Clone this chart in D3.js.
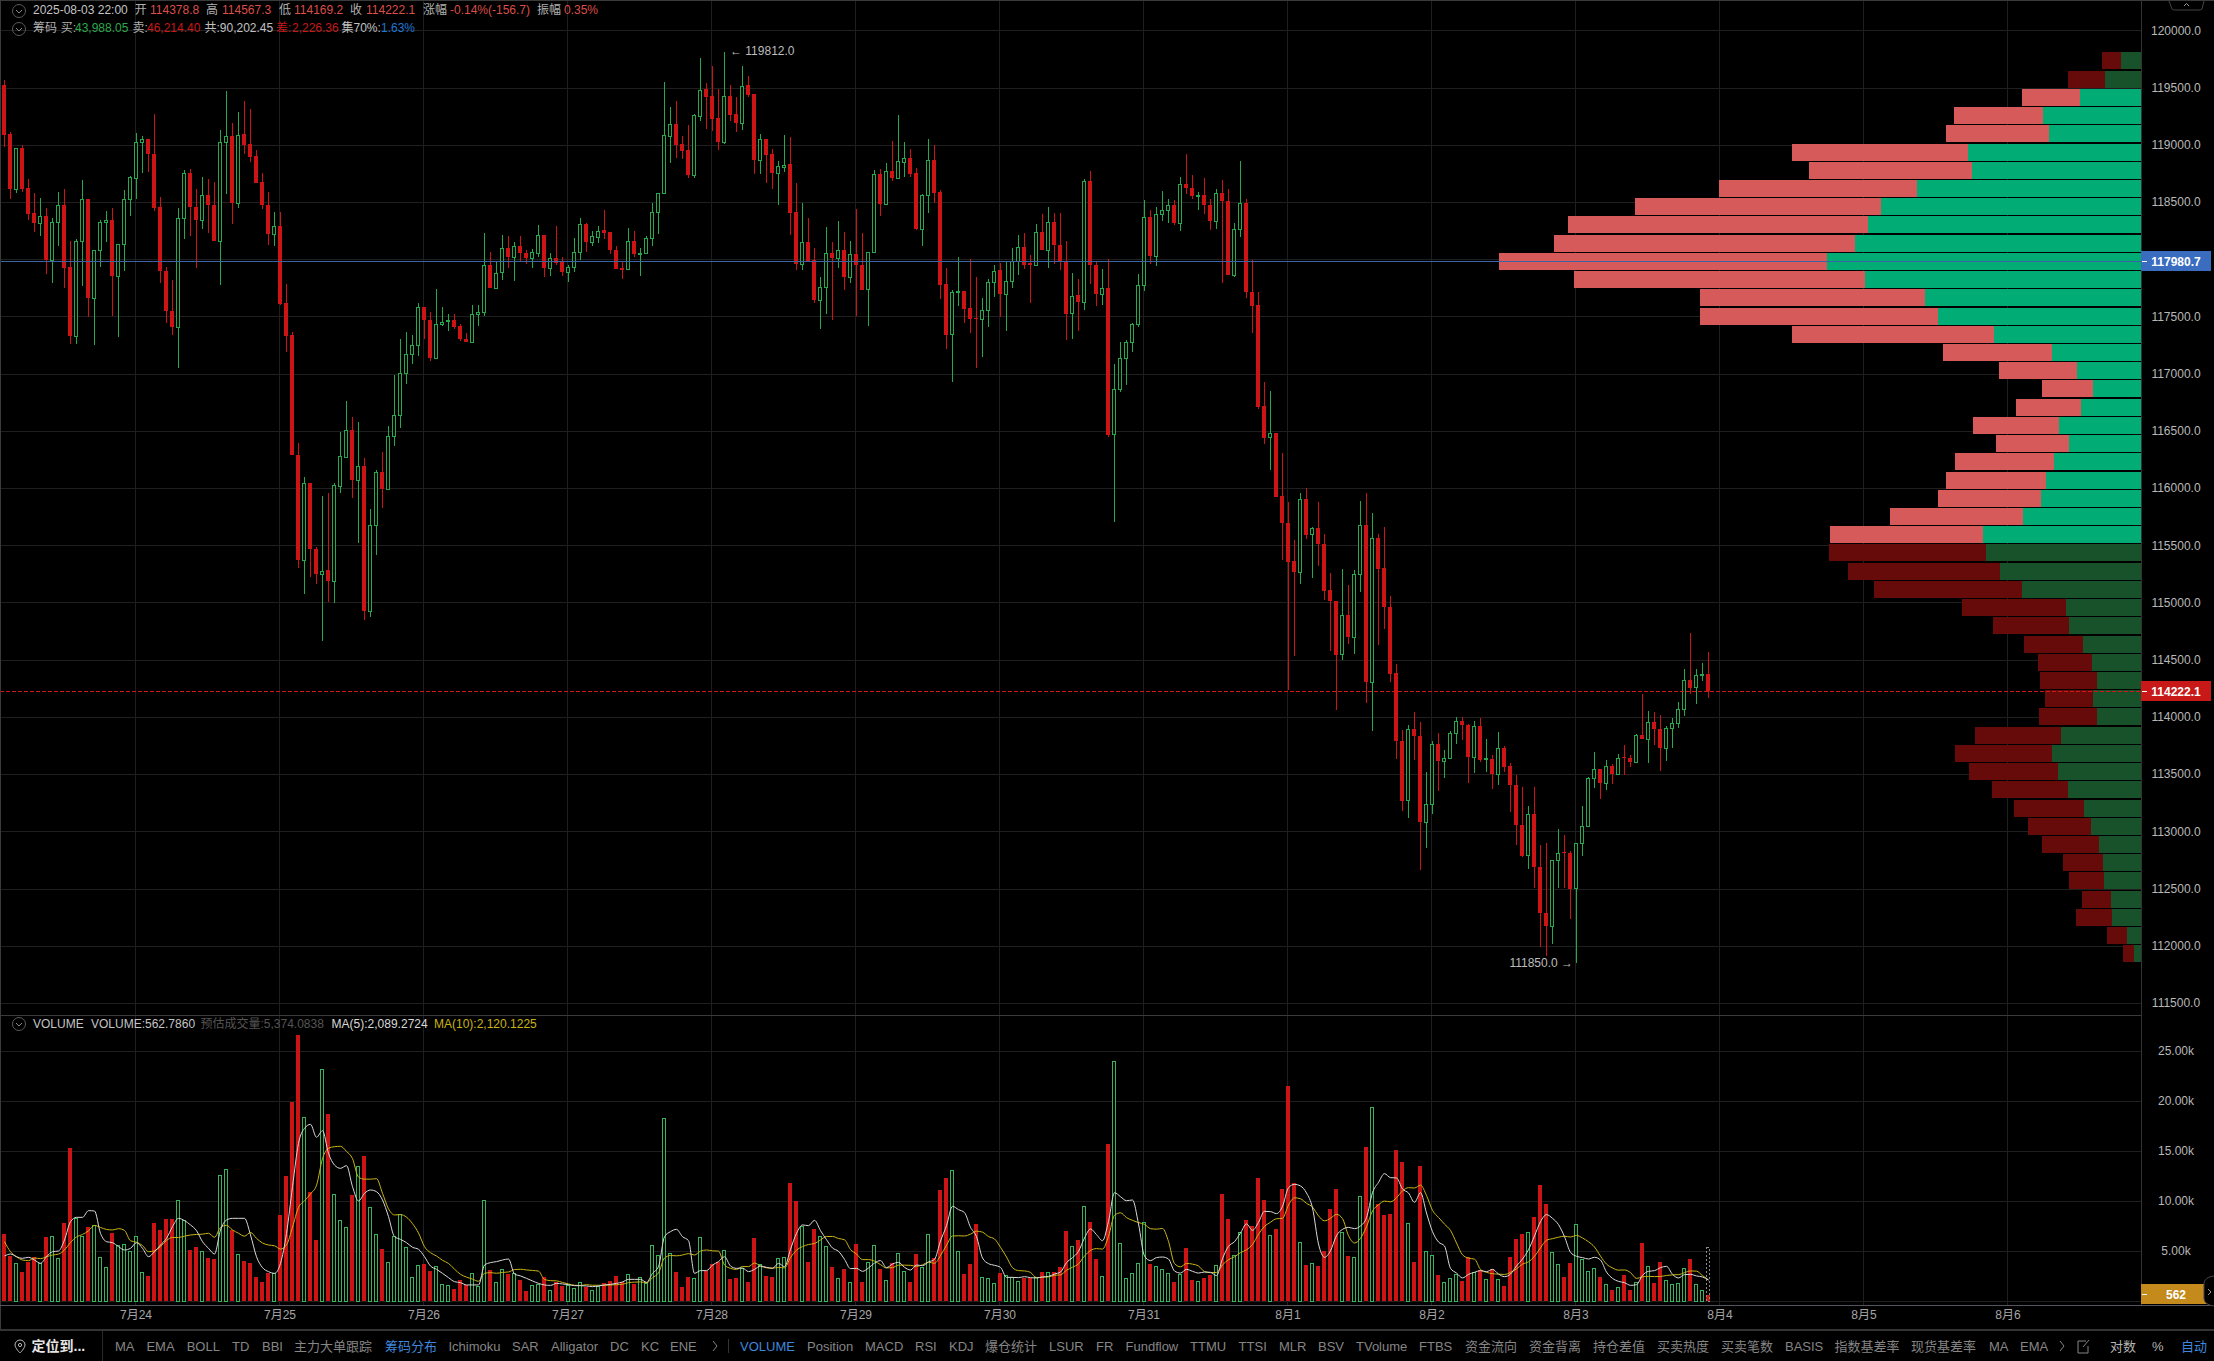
<!DOCTYPE html>
<html><head><meta charset="utf-8">
<style>html,body{margin:0;padding:0;background:#000;overflow:hidden}svg{display:block}text{font-family:"Liberation Sans","Noto Sans CJK SC",sans-serif}</style>
<script src="https://cdnjs.cloudflare.com/ajax/libs/d3/7.8.5/d3.min.js"></script>
</head><body><svg id="c" width="2214" height="1361"></svg>
<script>
const opens=[119518,119092,118616,118975,118619,118401,118318,118381,117993,118329,
118477,117931,117330,118163,118529,117662,118076,118329,118339,117855,
118135,118529,118712,119020,119054,118923,118457,117900,117551,117409,
118363,118750,118460,118346,118557,118477,118163,119020,119072,118495,
119092,119003,118899,118671,118477,118222,118294,117613,117333,116293,
115374,116041,115471,115249,115281,115191,116020,116272,116504,116069,
116189,114928,115681,116138,115992,116452,116642,117008,117174,117247,
117579,117472,117140,117437,117458,117465,117413,117306,117278,117523,
117541,117952,117748,117887,118096,118021,118114,118053,118006,118058,
118210,117919,118009,117974,117887,117930,118061,118308,118154,118198,
118253,118236,118079,117922,117910,118157,118053,118058,118183,118410,
118576,119079,119178,119003,118951,118739,119253,119483,119425,119230,
119023,119430,119268,119192,119518,119442,118866,119050,118916,118753,
118805,118832,118410,117962,118148,117994,117646,117753,118053,118012,
118079,117840,118044,117948,117736,118061,118741,118486,118768,118712,
118852,118881,118750,118268,118558,118864,118585,117782,117343,117709,
117721,117573,117486,117477,117555,117797,117904,117694,117808,117986,
118108,117963,117948,118240,118079,118327,118126,117986,117528,117683,
117624,118686,117951,117694,117750,116470,116864,117135,117278,117432,
117776,118371,118027,118397,118432,118476,118315,118659,118624,118554,
118563,118476,118333,118581,118511,117866,118266,118493,117715,117601,
116718,116444,116482,115933,115694,115362,115263,115904,115598,115651,
115511,115109,115013,114547,114890,114698,115249,115677,114305,115563,
115301,114963,114383,113789,113271,113894,113833,113078,113239,113763,
113614,113638,113859,113964,113929,113646,113920,113632,113632,113498,
113731,113571,113405,113058,112790,113151,112688,112286,112170,112749,
112819,112813,112502,112898,113043,113466,113545,113419,113574,113498,
113649,113641,113603,113842,113804,113955,113894,113728,113903,113944,
114066,114322,114258,114363,114378.8];
const closes=[119085,118616,118975,118616,118394,118318,118381,117993,118329,118477,
117921,117326,118163,118529,117662,118076,118329,118339,117852,118135,
118529,118716,119020,119051,118920,118446,117897,117548,117409,118363,
118750,118460,118343,118557,118477,118159,119020,119072,118495,119089,
118999,118896,118664,118477,118222,118294,117606,117326,116290,115374,
116041,115471,115246,115277,115191,116024,116276,116504,116069,116189,
114928,115681,116138,115989,116452,116642,117008,117174,117247,117579,
117472,117136,117437,117451,117465,117409,117302,117278,117523,117541,
117952,117748,117883,118096,118021,118114,118050,118006,118061,118210,
117919,118006,117968,117884,117930,118061,118305,118151,118201,118250,
118230,118076,117916,117907,118157,118047,118058,118183,118410,118576,
119082,119178,118994,118948,118739,119256,119480,119416,119227,119023,
119430,119259,119189,119515,119433,118866,119047,118910,118750,118811,
118826,118404,117962,118148,117983,117646,117756,118053,118012,118079,
117840,118044,117945,117733,118061,118741,118486,118768,118710,118855,
118881,118744,118265,118558,118864,118579,117776,117340,117712,117718,
117567,117480,117477,117555,117800,117896,117692,117808,117986,118108,
117948,117948,118240,118076,118327,118120,117983,117525,117680,117624,
118686,117948,117694,117750,116467,116864,117138,117278,117435,117776,
118371,118024,118397,118432,118473,118315,118659,118618,118549,118563,
118470,118330,118581,118505,117866,118266,118493,117709,117595,116709,
116441,116479,115925,115691,115356,115263,115904,115592,115651,115508,
115103,115010,114544,114890,114695,115249,115677,114302,115560,115295,
114957,114378,113786,113268,113894,113830,113078,113239,113763,113611,
113638,113859,113964,113926,113646,113920,113626,113641,113498,113728,
113565,113402,113052,112787,113151,112685,112283,112170,112749,112810,
112807,112499,112898,113043,113466,113545,113419,113571,113498,113638,
113638,113603,113842,113804,113955,113891,113725,113903,113944,114066,
114322,114255,114363,114375,114222.1];
const highs=[119569,119110,118975,118996,118698,118578,118533,118446,118360,118588,
118616,118163,118177,118688,118529,118083,118346,118425,118446,118135,
118602,118723,119103,119075,119054,119269,118543,117935,117821,118450,
118778,118788,118612,118716,118702,118674,119127,119473,119189,119286,
119379,119314,118954,118754,118584,118412,118412,117779,117361,116390,
116096,116041,115484,115927,115954,116048,116487,116760,116625,116577,
116265,115820,116158,116317,116538,116988,117299,117361,117340,117617,
117579,117537,117738,117582,117517,117517,117437,117354,117599,117596,
118228,118063,117980,118212,118204,118151,118204,118082,118087,118300,
118210,118053,118291,118018,117945,118183,118358,118314,118250,118288,
118433,118236,118116,117980,118276,118244,118096,118201,118489,118582,
119550,119326,119381,119076,119175,119268,119762,119538,119692,119483,
119812,119526,119413,119692,119599,119442,119093,119050,118962,118858,
119084,119064,118663,118489,118364,118099,117846,118282,118151,118332,
118239,118157,118436,118227,118064,118779,118785,118837,119032,119259,
119023,118965,118794,118570,119050,119000,118608,117925,117733,118018,
117721,118000,117843,117663,117826,117951,117963,117983,118094,118213,
118231,118038,118304,118391,118455,118400,118400,118155,117881,117831,
118697,118767,117983,117916,117998,117088,117280,117298,117444,117872,
118519,118429,118455,118595,118528,118514,118715,118916,118732,118586,
118706,118528,118610,118688,118610,118318,118855,118528,117989,117715,
116931,116852,116482,116307,115881,115549,115956,116003,115656,115875,
115601,115257,115013,115292,115152,115286,115887,115956,115785,115595,
115659,115059,114465,113888,113932,114040,113958,113518,113792,113862,
113713,113877,113999,113996,113941,113967,113987,113807,113664,113865,
113743,113597,113489,113387,113224,113390,112877,112898,112749,113020,
112965,112825,112898,113224,113472,113696,113545,113623,113591,113676,
113751,113670,113850,114203,114051,114040,114016,113923,113987,114127,
114418,114733,114418,114471,114567.3];
const lows=[118982,118526,118574,118588,118346,118235,118201,117869,117790,118118,
117748,117257,117261,117765,117499,117250,117935,118152,117506,117319,
117893,118374,118529,118754,118764,118425,117793,117444,117337,117046,
118177,118204,117921,118266,118232,118159,117772,118571,118305,118446,
118923,118847,118664,118436,118125,118111,117599,117188,116290,115298,
115077,115222,115159,114662,115004,114994,115954,116272,115916,115522,
114845,114873,115412,115827,115992,116369,116528,116912,117081,117150,
117299,117112,117140,117420,117368,117389,117285,117278,117278,117420,
117503,117748,117748,117820,117925,117805,117986,117962,117919,118023,
117846,117855,117951,117855,117803,117890,117989,118061,118116,118143,
118177,118044,117916,117823,117910,118023,117855,118058,118119,118221,
118576,118840,118884,118875,118712,118712,119210,119137,119122,118951,
119009,119210,119111,119128,119419,118744,118744,118669,118611,118474,
118765,118212,117901,117901,117983,117617,117393,117523,117471,117925,
117733,117791,117500,117733,117413,118061,118378,118486,118683,118712,
118721,118721,118256,118119,118407,118489,117651,117218,116925,117593,
117439,117358,117047,117146,117407,117672,117493,117371,117747,117866,
117910,117619,117948,118076,117922,117954,117904,117298,117304,117371,
117555,117782,117590,117598,116447,115701,116837,116904,117193,117403,
117718,117954,117939,118330,118312,118295,118245,118566,118528,118426,
118397,118251,118260,117788,117858,117840,118196,117657,117353,116695,
116383,116161,115925,115374,114238,114529,115164,115557,115211,115316,
115018,114579,114057,114497,114634,114547,115088,114121,113874,114631,
114771,114302,113635,113175,113113,113620,112659,112851,113148,113355,
113469,113638,113766,113795,113419,113510,113606,113521,113373,113405,
113521,113169,112877,112773,112673,112507,111989,111907,112012,112507,
112502,112234,111850,112781,113043,113381,113285,113364,113416,113498,
113495,113562,113603,113804,113600,113757,113530,113617,113728,113900,
114011,114203,114110,114311,114169.2];
const volumes=[6690,4490,3760,2890,3930,4360,3760,6350,6450,4260,
7750,15270,8250,6450,7350,7550,4360,3360,6750,5590,
5660,4960,6450,2860,2500,7750,7090,8150,8150,10050,
8080,5090,5360,4960,4260,4160,12540,13140,7090,4660,
3960,3760,2360,1900,2760,2760,8580,12480,19860,26550,
18330,10880,6090,23120,18630,10650,8050,7350,10550,13440,
14470,9350,6650,5160,3860,6450,8650,5360,2360,3560,
3690,2990,3460,1660,1600,1160,2060,1560,2760,1500,
10050,3090,1930,3160,2690,2830,2100,1000,1560,1660,
2360,1100,1900,1530,1600,1330,1930,1430,1100,1500,
1760,2000,2500,1900,2660,1700,2360,1760,5560,4590,
18230,4760,2890,1400,2400,2260,6350,3030,3690,3930,
5060,2160,2300,3260,1900,6290,3660,2500,2360,4260,
4390,11780,9980,7490,3890,7190,6490,5490,3390,2260,
3160,1860,5690,1860,3930,5590,3160,2100,3760,4760,
2990,1860,4660,3360,6650,4260,11080,12280,13040,4990,
2690,3690,7690,2360,2260,1760,2760,2600,2430,2030,
2260,2330,2430,2930,2930,2860,3360,6990,5520,6090,
9450,7890,4190,2500,15670,23920,5760,2260,2760,3760,
7850,3690,3490,3160,2760,1900,2690,5290,2100,2000,
2330,2600,3560,10680,8180,4590,6850,8080,7490,12280,
10080,6590,7190,11180,21460,11740,5860,3590,3760,3530,
5020,9180,11180,6920,4490,4360,10480,15400,19330,9680,
8580,8680,15070,13870,7750,3890,13470,4960,4560,2600,
1860,2260,2690,2000,4420,2930,3090,2160,3160,2160,
1500,4420,6190,6690,6850,8350,11580,9680,4860,3690,
2360,3760,7650,4160,2960,3260,2360,1660,1100,1430,
2600,1100,1860,5760,3460,1760,3860,2060,1660,1760,
3290,4190,1660,1060,562.786];
const ma5=[4490,4690,4420,4260,4360,4090,3760,4420,4920,4990,
6090,7920,8350,8350,9020,8980,6750,5920,5820,5420,
5090,5260,5820,5260,4420,4920,5590,6250,7420,8250,
8020,7590,7020,5920,5260,4690,7090,8080,8250,8250,
8250,6590,4420,3330,2930,2760,3760,6750,11410,15740,
17230,17630,16340,17000,14740,13570,13240,13510,11410,9980,
10750,11080,10910,10080,8420,6420,6150,5820,5360,5160,
4420,3490,3160,2760,2330,1930,1830,1600,1600,1600,
3590,3830,3930,4090,4190,2690,2500,2260,2000,1760,
1600,1560,1760,1700,1630,1530,1530,1500,1430,1500,
1600,1660,1760,1900,2160,2160,2160,1860,2760,3430,
6420,6920,7150,6420,6020,2760,3030,3030,3590,3930,
4420,3490,3260,3290,2930,3160,3490,3360,3260,3760,
3430,5160,6750,7590,7520,8050,7020,6120,5290,4960,
4160,3230,3260,2960,3290,3790,4030,3330,3690,3860,
3360,3090,3590,3530,3890,4160,5990,7520,9450,9120,
8820,7350,6420,4290,3730,3560,3360,2360,2360,2330,
2430,2330,2300,2400,2460,2690,2890,3830,4330,4960,
6290,7190,6620,6020,7950,10810,10410,10010,10080,7690,
4490,4030,4330,4390,4190,2990,2790,3160,2960,2790,
2890,2860,2530,4230,5460,5920,6790,7690,7050,7850,
8950,8920,8720,9450,11310,11640,11480,10780,9280,5690,
4360,5020,6520,7150,7350,7220,7490,8320,10810,11840,
12710,12310,12280,11180,10780,9850,10810,8780,6920,5890,
5490,3260,2790,2300,2660,2860,3030,2930,3160,2690,
2430,2690,3490,4190,5120,6490,7920,8620,8250,7620,
6420,4860,4460,4330,4190,4360,4090,2890,2260,1960,
1830,1560,1630,2560,2960,3030,3330,3460,2660,2300,
2630,2660,2500,2400,2089.27];
const ma10=[5920,4920,4420,4090,4030,4290,4230,4420,4590,4680,
5090,5840,6390,6640,7010,7540,7340,7140,7090,7220,
7040,6010,5870,5540,4920,5010,5430,6040,6340,6340,
6470,6590,6640,6670,6760,6360,7340,7550,7090,6760,
6470,6840,6250,5790,5590,5510,5180,5590,7370,9340,
9990,10700,11550,14210,15240,15400,15440,14930,14210,12360,
12160,12160,12210,10750,9200,8590,8620,8370,7720,6790,
5420,4820,4490,4060,3750,3180,2660,2380,2180,1970,
2760,2830,2770,2850,2900,3140,3170,3100,3050,2980,
2150,2030,2010,1850,1700,1570,1550,1630,1570,1570,
1570,1600,1630,1670,1830,1880,1910,1810,2330,2800,
4290,4540,4510,4590,4730,4590,4980,5090,5010,4980,
3590,3260,3150,3440,3430,3790,3490,3310,3280,3350,
3300,4330,5060,5430,5640,5740,6090,6440,6440,6240,
6110,5130,4690,4130,4130,3980,3630,3300,3330,3580,
3580,3560,3460,3610,3880,3760,4540,5560,6490,6510,
6490,6670,6970,6870,6430,6190,5360,4390,3330,3030,
3000,2850,2330,2380,2400,2560,2610,3070,3370,3710,
4490,5040,5230,5180,6460,8550,8800,8320,8050,7820,
7650,7220,7170,7240,5940,3740,3410,3750,3680,3490,
2940,2830,2850,3600,4130,4410,4830,5110,5640,6660,
7440,7860,8210,8250,9580,10300,10200,9750,9370,8500,
8000,8250,8650,8220,6520,5790,6260,7420,8980,9600,
9970,9900,10300,11000,11310,11280,11560,10530,9050,8340,
7670,7040,5790,4610,4280,4180,3150,2860,2730,2680,
2650,2860,3210,3680,3910,4460,5310,6060,6220,6370,
6460,6390,6540,6290,5910,5390,4480,3680,3300,3080,
3100,2830,2260,2410,2460,2430,2450,2550,2610,2630,
2830,3000,2980,2530,2120.12];
const chipSell=[159,305,477,740,847,1453,1346,1638,2038,2481,2494,2718,2408,1862,1974,1677,899,641,421,533,710,606,817,830,856,1097,1269,1303,1260,1221,860,632,490,447,473,400,482,710,800,735,632,576,520,473,327,284,237,297,159,86];
const chipBuy=[163,297,507,808,765,1436,1402,1858,2150,2262,2365,2597,2288,1789,1677,1213,740,533,396,499,679,593,722,783,826,980,1307,1281,1165,989,619,593,477,404,361,396,361,662,740,688,602,473,413,344,318,310,249,241,120,60];
const chipHigh=119812, chipLow=111850, brightFrom=2, brightTo=26;
const priceTicks=[120000,119500,119000,118500,118000,117500,117000,116500,116000,115500,115000,114500,114000,113500,113000,112500,112000,111500];
const volumeTicks=[5000,10000,15000,20000,25000];
const dayLabels=["7月24","7月25","7月26","7月27","7月28","7月29","7月30","7月31","8月1","8月2","8月3","8月4","8月5","8月6"];
const dayIndex=[22,46,70,94,118,142,166,190,214,238,262,286,310,334];
const lastMarkPrice=117980.7, currentPrice=114222.1, currentVolume=562, estimatedVolume=5374.0838;
const toolbarLeft=[["MA",115],["EMA",146.4],["BOLL",186.7],["TD",232],["BBI",262],["主力大单跟踪",294],["筹码分布",385,1],["Ichimoku",448.5],["SAR",512],["Alligator",551],["DC",610],["KC",641],["ENE",670],["VOLUME",740,1],["Position",807],["MACD",865],["RSI",915],["KDJ",949],["爆仓统计",985],["LSUR",1049],["FR",1096],["Fundflow",1125.5],["TTMU",1190],["TTSI",1238.6],["MLR",1279],["BSV",1318],["TVolume",1356],["FTBS",1419],["资金流向",1465],["资金背离",1529],["持仓差值",1593],["买卖热度",1657],["买卖笔数",1721],["BASIS",1785],["指数基差率",1834.6],["现货基差率",1911],["MA",1989],["EMA",2020]];

const svg=d3.select("#c");
svg.append("rect").attr("width",2214).attr("height",1361).attr("fill","#000");
const x=d3.scaleLinear().domain([0,1]).range([4,10]);
const y=d3.scaleLinear().domain([111500,120000]).range([1003,30.3]);
const v=d3.scaleLinear().domain([0,25000]).range([1301,1050.5]);
const cw=d3.scaleLinear().domain([0,1000]).range([0,120.8]);
const axisX=2141, RED="#cd1414", GREEN="#27a84c", VGREEN="#35b45a", GRID="#1f1f1f";
const T=(t,px,py,fill,o={})=>svg.append("text").attr("x",px).attr("y",py).attr("dy","0.35em").attr("fill",fill).attr("font-size",o.size||12).attr("font-weight",o.bold?"bold":null).attr("text-anchor",o.anchor||"start").text(t);

// grid
const g=svg.append("g").attr("stroke",GRID).attr("stroke-width",1).attr("shape-rendering","crispEdges");
dayIndex.forEach(d=>{const gx=Math.floor(x(d))-0.5;g.append("line").attr("x1",gx).attr("x2",gx).attr("y1",0).attr("y2",1305);});
priceTicks.forEach(p=>{const gy=Math.round(y(p))+0.5;g.append("line").attr("x1",0).attr("x2",axisX).attr("y1",gy).attr("y2",gy);});
[0].concat(volumeTicks).forEach(t=>{const gy=Math.round(v(t))+0.5;g.append("line").attr("x1",0).attr("x2",axisX).attr("y1",gy).attr("y2",gy);});

// chip distribution
const rowH=(chipHigh-chipLow)/chipSell.length;
const chips=svg.append("g").attr("shape-rendering","crispEdges");
chipSell.forEach((s,i)=>{
  const top=y(chipHigh-i*rowH), bot=y(chipHigh-(i+1)*rowH), b=chipBuy[i];
  const bright=i>=brightFrom&&i<=brightTo;
  chips.append("rect").attr("x",axisX-cw(b)).attr("y",top+0.6).attr("width",cw(b)).attr("height",bot-top-1.2).attr("fill",bright?"#02ad75":"#17522a");
  chips.append("rect").attr("x",axisX-cw(b)-cw(s)).attr("y",top+0.6).attr("width",cw(s)).attr("height",bot-top-1.2).attr("fill",bright?"#d65a5a":"#660a0a");
});

// candles
const cg=svg.append("g").attr("shape-rendering","crispEdges");
opens.forEach((o,i)=>{
  const c=closes[i],up=c>=o,col=up?GREEN:RED,cx=x(i);
  cg.append("line").attr("x1",cx+0.5).attr("x2",cx+0.5).attr("y1",y(highs[i])).attr("y2",y(lows[i])).attr("stroke",col);
  const t=Math.round(y(Math.max(o,c))),b=Math.round(y(Math.min(o,c)));
  if(up) cg.append("rect").attr("x",cx-1.5).attr("y",t+0.5).attr("width",3).attr("height",Math.max(b-t,1)).attr("fill","#000").attr("stroke",col);
  else cg.append("rect").attr("x",cx-2).attr("y",t).attr("width",4).attr("height",Math.max(b-t,1)).attr("fill",col);
});

// price lines
svg.append("line").attr("x1",0).attr("x2",axisX).attr("y1",Math.round(y(lastMarkPrice))+0.5).attr("y2",Math.round(y(lastMarkPrice))+0.5).attr("stroke","#3c63a4").attr("shape-rendering","crispEdges");
svg.append("line").attr("x1",0).attr("x2",axisX).attr("y1",Math.round(y(currentPrice))+0.5).attr("y2",Math.round(y(currentPrice))+0.5).attr("stroke","#d01818").attr("stroke-dasharray","4,2").attr("shape-rendering","crispEdges");

// extreme labels
const highIdx=d3.maxIndex(highs), lowIdx=d3.minIndex(lows);
T("← "+d3.max(highs).toFixed(1),x(highIdx)+6,y(d3.max(highs))-1,"#bdbdbd");
T(d3.min(lows).toFixed(1)+" →",x(lowIdx)-3,y(d3.min(lows)),"#bdbdbd",{anchor:"end"});

// volume
const vg=svg.append("g").attr("shape-rendering","crispEdges");
volumes.forEach((val,i)=>{
  const up=closes[i]>=opens[i],cx=x(i),t=Math.round(v(val)),b=v(0);
  if(up) vg.append("rect").attr("x",cx-1.5).attr("y",t+0.5).attr("width",3).attr("height",b-t-0.5).attr("fill","#000").attr("stroke",VGREEN);
  else vg.append("rect").attr("x",cx-2).attr("y",t).attr("width",4).attr("height",b-t).attr("fill",RED);
});
const lastI=volumes.length-1;
svg.append("rect").attr("x",x(lastI)-1.5).attr("y",Math.round(v(estimatedVolume))+0.5).attr("width",3).attr("height",v(0)-v(estimatedVolume)).attr("fill","none").attr("stroke","#8a8a8a").attr("stroke-dasharray","2,2").attr("shape-rendering","crispEdges");
const line=d3.line().x((d,i)=>x(i)+0.5).y(d=>v(d)).curve(d3.curveMonotoneX);
svg.append("path").attr("d",line(ma10)).attr("fill","none").attr("stroke","#c9b414").attr("stroke-width",1);
svg.append("path").attr("d",line(ma5)).attr("fill","none").attr("stroke","#d8d8d8").attr("stroke-width",1);

// axes
const pa=svg.append("g").attr("transform",`translate(${axisX},0)`).call(d3.axisRight(y).tickValues(priceTicks).tickSize(0).tickFormat(d=>d.toFixed(1)));
const va=svg.append("g").attr("transform",`translate(${axisX},0)`).call(d3.axisRight(v).tickValues(volumeTicks).tickSize(0).tickFormat(d=>(d/1000).toFixed(2)+"k"));
[pa,va].forEach(a=>{a.select(".domain").remove();a.selectAll("text").attr("x",35).attr("text-anchor","middle").attr("fill","#b8b8b8").attr("font-size",12).attr("font-family",null);});
const ta=svg.append("g").attr("transform","translate(-0.5,1308)").call(d3.axisBottom(x).tickValues(dayIndex).tickSize(0).tickFormat((d,i)=>dayLabels[i]));
ta.select(".domain").remove();
ta.selectAll("text").attr("fill","#a6a6a6").attr("font-size",12).attr("font-family",null).attr("y",2).attr("dy","0.71em");

// frame lines
const f=svg.append("g").attr("shape-rendering","crispEdges");
f.append("line").attr("x1",0).attr("x2",2214).attr("y1",0.5).attr("y2",0.5).attr("stroke","#3a3a3a");
f.append("line").attr("x1",0.5).attr("x2",0.5).attr("y1",0).attr("y2",1329).attr("stroke","#3a3a3a");
f.append("line").attr("x1",axisX+0.5).attr("x2",axisX+0.5).attr("y1",0).attr("y2",1305).attr("stroke","#333");
f.append("line").attr("x1",0).attr("x2",axisX).attr("y1",1015.5).attr("y2",1015.5).attr("stroke","#3a3a3a");
f.append("line").attr("x1",0).attr("x2",2214).attr("y1",1305.5).attr("y2",1305.5).attr("stroke","#55555f");
f.append("rect").attr("x",0).attr("y",1329).attr("width",2214).attr("height",2).attr("fill","#333");

// tags
function tag(py,fill,label){
  svg.append("rect").attr("x",axisX).attr("y",py-10).attr("width",70).attr("height",20).attr("fill",fill);
  svg.append("line").attr("x1",axisX+1).attr("x2",axisX+6).attr("y1",py+0.5).attr("y2",py+0.5).attr("stroke","#fff").attr("shape-rendering","crispEdges");
  T(label,2176,py+0.5,"#fff",{anchor:"middle",bold:true});
}
tag(Math.round(y(lastMarkPrice)),"#3a6cc0",lastMarkPrice.toFixed(1));
tag(Math.round(y(currentPrice)),"#c81818",currentPrice.toFixed(1));
tag(1294,"#c48a1c",String(currentVolume));

// tabs
svg.append("path").attr("d","M2169,1 L2172,9 Q2173,10 2175,10 L2199,10 Q2201,10 2202,9 L2204,1").attr("fill","#000").attr("stroke","#444");
svg.append("path").attr("d","M2184,6 L2186.5,3.5 L2189,6").attr("fill","none").attr("stroke","#999");
svg.append("path").attr("d","M2214,1276 Q2205,1277 2204,1283 L2204,1299 Q2205,1305 2214,1306").attr("fill","#000").attr("stroke","#444");
svg.append("path").attr("d","M2208,1289 L2211,1292 L2208,1295").attr("fill","none").attr("stroke","#999");

// legend icons
function chev(cx,cy){
  svg.append("circle").attr("cx",cx).attr("cy",cy).attr("r",6.5).attr("fill","none").attr("stroke","#5a5a5a");
  svg.append("path").attr("d",`M${cx-3},${cy-1} L${cx},${cy+2} L${cx+3},${cy-1}`).attr("fill","none").attr("stroke","#8a8a8a");
}
chev(19,11);chev(19,29);chev(19,1024);
const L="#b0b0b0",VR="#dc4e48",VG="#2ca84e";
T("2025-08-03 22:00",33,10,"#c4c4c4");
[["开",134.8,L],["114378.8",150,VR],["高",206,L],["114567.3",222,VR],["低",279,L],["114169.2",294,VR],["收",350,L],["114222.1",366,VR],["涨幅",423,L],["-0.14%(-156.7)",450,VR],["振幅",537,L],["0.35%",564,VR]].forEach(a=>T(a[0],a[1],10,a[2]));
[["筹码",33,L],["买:",60.7,L],["43,988.05",75,VG],["卖:",132.6,L],["46,214.40",147,"#c81818"],["共:90,202.45",204.5,"#c0c0c0"],["差:",276,"#c81818"],["2,226.36",292,"#c81818"],["集70%:",341.5,"#c0c0c0"],["1.63%",381,"#1e78d8"]].forEach(a=>T(a[0],a[1],28,a[2]));
[["VOLUME",33,"#c4c4c4"],["VOLUME:562.7860",91,"#c4c4c4"],["预估成交量:5,374.0838",200.5,"#555"],["MA(5):2,089.2724",331.6,"#d8d8d8"],["MA(10):2,120.1225",434,"#c9b414"]].forEach(a=>T(a[0],a[1],1024,a[2]));

// toolbar
svg.append("path").attr("d","M20,1340 a5,5 0 0 1 5,5 c0,3 -5,8 -5,8 c0,0 -5,-5 -5,-8 a5,5 0 0 1 5,-5z").attr("fill","none").attr("stroke","#bbb");
svg.append("circle").attr("cx",20).attr("cy",1345).attr("r",1.6).attr("fill","none").attr("stroke","#bbb");
T("定位到...",31.6,1346,"#e6e6e6",{size:14,bold:true});
svg.append("line").attr("x1",102.5).attr("x2",102.5).attr("y1",1331).attr("y2",1361).attr("stroke","#2a2a2a");
svg.append("line").attr("x1",728.5).attr("x2",728.5).attr("y1",1339).attr("y2",1353).attr("stroke","#333");
toolbarLeft.forEach(t=>T(t[0],t[1],1346,t[2]?"#3f86dc":"#858585",{size:13}));
[[713],[2060]].forEach(a=>svg.append("path").attr("d",`M${a[0]},1341 L${a[0]+4},1346 L${a[0]},1351`).attr("fill","none").attr("stroke","#858585"));
svg.append("path").attr("d","M2086,1341 L2078,1341 L2078,1353 L2088,1353 L2088,1346 M2083,1347 L2089,1340").attr("fill","none").attr("stroke","#858585");
T("对数",2110,1346,"#b4b4b4",{size:13});
T("%",2152,1346,"#b4b4b4",{size:13});
T("自动",2181,1346,"#3f86dc",{size:13});
</script></body></html>
